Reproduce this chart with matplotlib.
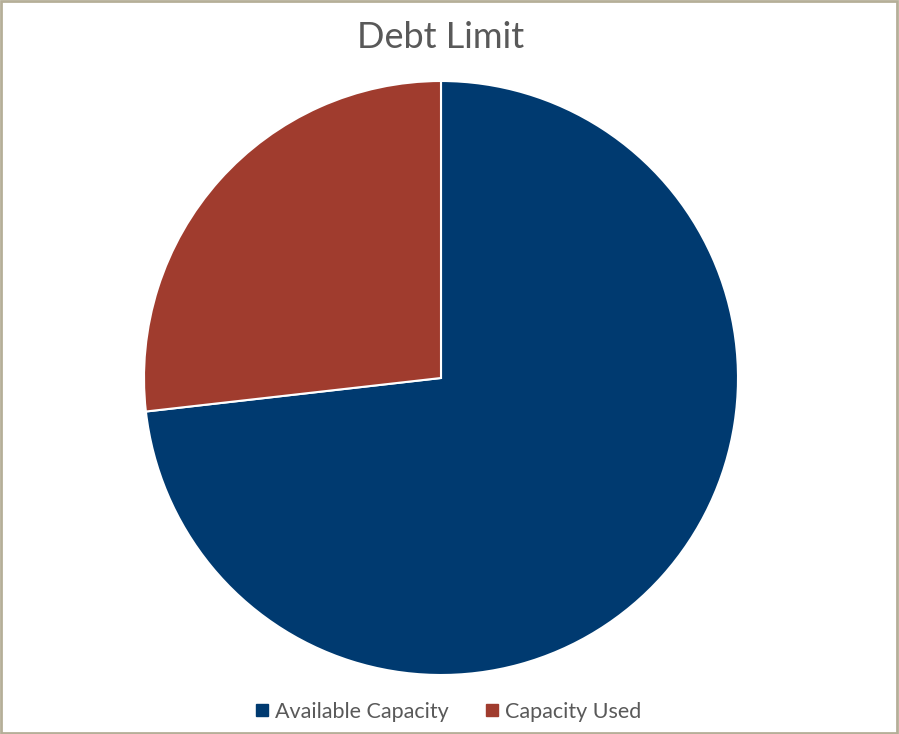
import matplotlib.pyplot as plt
from matplotlib.patches import Rectangle
from matplotlib.lines import Line2D

labels = ['Available Capacity', 'Capacity Used']
values = [73.2, 26.8]
colors = ['#003A70', '#A03C2E']

plt.rcParams['font.family'] = ['Lato', 'DejaVu Sans']

fig = plt.figure(figsize=(8.99, 7.34), dpi=100)

# outer border of the chart
fig.patches.append(Rectangle((0.0015, 0.002), 0.996, 0.996, transform=fig.transFigure,
                             fill=False, edgecolor='#B5AF98', linewidth=2))

ax = fig.add_axes([144 / 899, 59 / 734, 594 / 899, 594 / 734])
ax.pie(values, colors=colors, startangle=90, counterclock=False, radius=1,
       wedgeprops=dict(edgecolor='white', linewidth=1.5))
ax.set_xlim(-1.0, 1.0)
ax.set_ylim(-1.0, 1.0)
ax.axis('off')

fig.text(441 / 899, 1 - 38 / 734, 'Debt Limit', ha='center', va='center',
         fontsize=26, color='#595959')

handles = [Line2D([], [], marker='s', linestyle='none', markersize=8,
                  markerfacecolor=c, markeredgecolor=c) for c in colors]
fig.legend(handles, labels, loc='center', bbox_to_anchor=(447 / 899, 1 - 712 / 734),
           ncol=2, frameon=False, fontsize=15.5, handletextpad=0.2,
           columnspacing=1.6, labelcolor='#595959', handlelength=0.8)

fig.savefig('out.png', dpi=100)
